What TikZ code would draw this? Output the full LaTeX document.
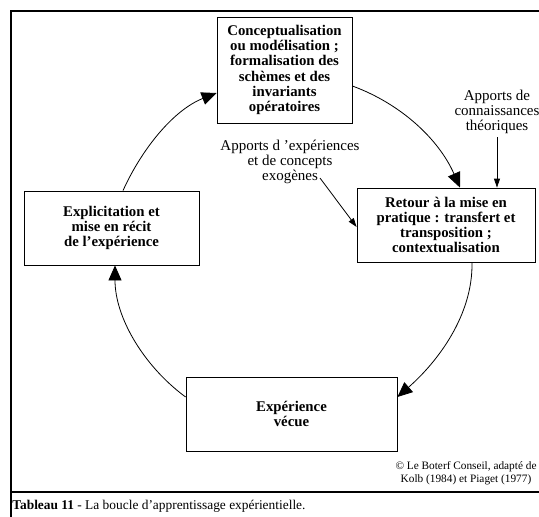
\documentclass[tikz,border=0pt]{standalone}
\usepackage{fontspec}
\setmainfont{Liberation Serif}
\usepackage{tikz}
\usetikzlibrary{arrows.meta}
\tikzset{
  bigarr/.style={-{Triangle[length=15pt,width=13pt]}},
  smarr/.style={-{Triangle[length=9pt,width=6pt]}},
  blk/.style={draw,line width=0.8pt,align=center,inner sep=2pt,font=\fontsize{14.8}{15.2}\selectfont\bfseries},
  ann/.style={align=center,inner sep=0pt,font=\fontsize{15}{15}\selectfont},
  every picture/.style={line width=0.8pt},
}
\begin{document}
\begin{tikzpicture}[x=1pt,y=-1pt]
\useasboundingbox (0,0) rectangle (539,517);
\draw[line width=1.3pt] (539,11) -- (11,11) -- (11,517); \draw[line width=1.3pt] (11,492) -- (539,492);
\node[blk,minimum width=135pt,minimum height=106pt] (concept) at (284.5,70){Conceptualisation\\ou modélisation ;\\formalisation des\\schèmes et des\\invariants\\opératoires};
\node[blk,minimum width=178pt,minimum height=74pt] (retour) at (446,225){Retour à la mise en\\pratique : transfert et\\transposition ;\\contextualisation};
\node[blk,minimum width=175pt,minimum height=74pt] (explic) at (111.5,228){Explicitation et\\mise en récit\\de l’expérience};
\node[blk,minimum width=211pt,minimum height=74pt] (vecue) at (291.5,414){Expérience\\vécue};
\node[ann] (theo) at (497,112){Apports de\\connaissances\\théoriques};
\node[ann] (exo) at (290,162){Apports d ’expériences\\et de concepts\\exogènes};
\node[ann,font=\fontsize{11.3}{13}\selectfont] (copy) at (466,473){© Le Boterf Conseil, adapté de\\Kolb (1984) et Piaget (1977)};
\node[ann,anchor=west,font=\fontsize{13.4}{15}\selectfont] (legend) at (12,506){\textbf{Tableau 11} - La boucle d'apprentissage expérientielle.};
\coordinate (exotail) at (320,178);
% the loop
\draw[bigarr] ([xshift=11.5pt]explic.north) .. controls +(19,-42) and +(-43,17) .. ([yshift=-23pt]concept.west);
\draw[bigarr] ([yshift=-16pt]concept.east) .. controls +(49,18) and +(-21,-48) .. ([xshift=14pt]retour.north);
\draw[bigarr] ([xshift=26pt]retour.south) .. controls +(1,53) and +(40,-35) .. ([yshift=17pt]vecue.east);
\draw[bigarr] ([yshift=17pt]vecue.west) .. controls +(-42,-31) and +(0,52) .. ([xshift=3.5pt]explic.south);
% inputs
\draw[smarr] ([yshift=-3pt]theo.south) -- (theo.south |- retour.north);
\draw[smarr] (exotail) -- ([yshift=-2pt]retour.west);
\end{tikzpicture}
\end{document}
